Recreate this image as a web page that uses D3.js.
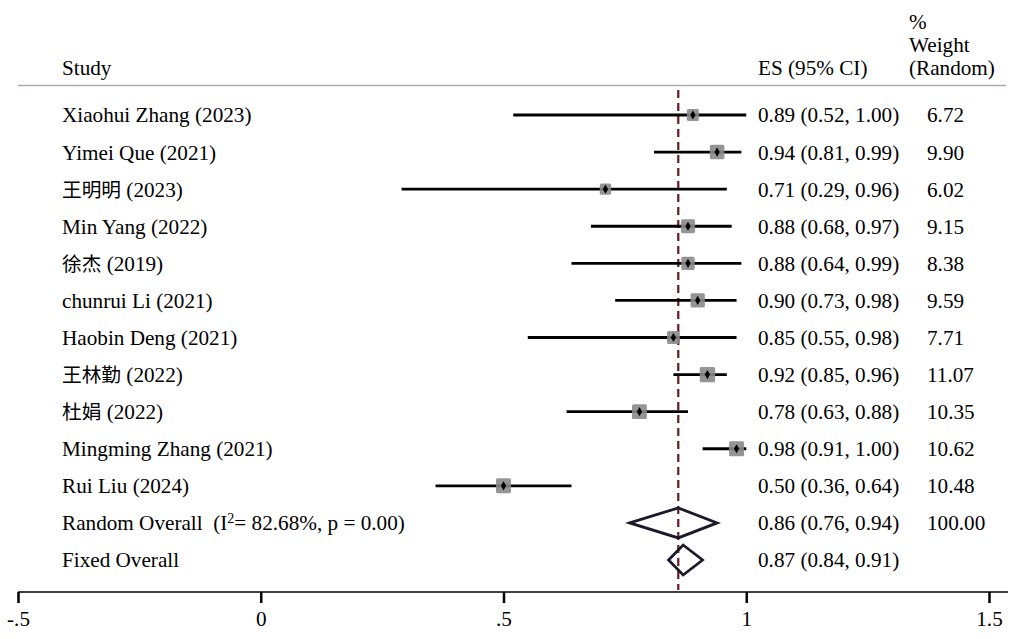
<!DOCTYPE html>
<html><head><meta charset="utf-8">
<script src="https://cdn.jsdelivr.net/npm/d3@7"></script>
<style>
html,body{margin:0;padding:0;background:#fff;}
svg{display:block;font-family:"Liberation Serif","Times New Roman",serif;}
</style></head>
<body><svg id="c" width="1015" height="639"></svg>
<script>
const studies = ["Xiaohui Zhang (2023)","Yimei Que (2021)","王明明 (2023)","Min Yang (2022)","徐杰 (2019)","chunrui Li (2021)","Haobin Deng (2021)","王林勤 (2022)","杜娟 (2022)","Mingming Zhang (2021)","Rui Liu (2024)"];
const es = [0.89,0.94,0.71,0.88,0.88,0.90,0.85,0.92,0.78,0.98,0.50];
const lo = [0.52,0.81,0.29,0.68,0.64,0.73,0.55,0.85,0.63,0.91,0.36];
const hi = [1.00,0.99,0.96,0.97,0.99,0.98,0.98,0.96,0.88,1.00,0.64];
const weights = [6.72,9.90,6.02,9.15,8.38,9.59,7.71,11.07,10.35,10.62,10.48];
const overallLabels = ["Random Overall","Fixed Overall"];
const overallES = [0.86,0.87];
const overallLo = [0.76,0.84];
const overallHi = [0.94,0.91];
const overallWeight = ["100.00",""];
const I2 = "82.68%", pval = "0.00";
const tickVals = [-0.5,0,0.5,1,1.5];
const tickLabels = ["-.5","0",".5","1","1.5"];

const svg = d3.select("#c");
const x = d3.scaleLinear().domain([-0.5,1.5]).range([18,989]);
const y = d3.scaleLinear().domain([0,12]).range([115,560]);
const box = d3.scaleSqrt().domain([0,12]).range([0,16]);
const f2 = d3.format(".2f");
const fontSize = 21.2;

// header
svg.append("text").attr("x",62).attr("y",68).attr("dy","0.35em").attr("font-size",fontSize).text("Study");
svg.append("text").attr("x",758).attr("y",68).attr("dy","0.35em").attr("font-size",fontSize).text("ES (95% CI)");
["%","Weight","(Random)"].forEach((t,i)=>{
  svg.append("text").attr("x",909).attr("y",22+i*23).attr("dy","0.35em").attr("font-size",fontSize).text(t);
});
svg.append("line").attr("x1",18).attr("x2",1006).attr("y1",85.5).attr("y2",85.5).attr("stroke","#b3a8a8").attr("stroke-width",1.3);

// dashed overall line
svg.append("line").attr("x1",x(overallES[0])).attr("x2",x(overallES[0])).attr("y1",90).attr("y2",590)
  .attr("stroke","#6b1a1f").attr("stroke-width",2.2).attr("stroke-dasharray","8,5");

// studies
const g = svg.append("g");
studies.forEach((s,i)=>{
  const yy = y(i);
  g.append("line").attr("x1",x(lo[i])).attr("x2",x(hi[i])).attr("y1",yy).attr("y2",yy).attr("stroke","#000").attr("stroke-width",2.8);
  const b = box(weights[i]);
  g.append("rect").attr("x",x(es[i])-b/2).attr("y",yy-b/2).attr("width",b).attr("height",b).attr("rx",1.5)
    .attr("fill","#8a8a8a").attr("fill-opacity",0.9);
  g.append("path").attr("d",d3.symbol(d3.symbolDiamond,24)()).attr("transform",`translate(${x(es[i])},${yy})`).attr("fill","#000");
  const isCJK = /[\u4e00-\u9fff]/.test(s);
  const t = g.append("text").attr("x",62).attr("y",yy).attr("dy","0.35em").attr("font-size",fontSize);
  if(isCJK){
    const m = s.match(/^(\S+)(.*)$/);
    t.append("tspan").attr("font-family","'Noto Sans CJK SC'").attr("font-size",fontSize-1.5).text(m[1]);
    t.append("tspan").text(m[2]);
  } else t.text(s);
  g.append("text").attr("x",758).attr("y",yy).attr("dy","0.35em").attr("font-size",fontSize)
    .text(`${f2(es[i])} (${f2(lo[i])}, ${f2(hi[i])})`);
  g.append("text").attr("x",927).attr("y",yy).attr("dy","0.35em").attr("font-size",fontSize).text(f2(weights[i]));
});

// overall
overallLabels.forEach((lab,j)=>{
  const yy = y(11+j);
  const h = 15;
  g.append("path").attr("d",`M${x(overallLo[j])},${yy}L${x(overallES[j])},${yy-h}L${x(overallHi[j])},${yy}L${x(overallES[j])},${yy+h}Z`)
    .attr("fill","none").attr("stroke","#1a1a2a").attr("stroke-width",2.8);
  const t = g.append("text").attr("x",62).attr("y",yy).attr("dy","0.35em").attr("font-size",fontSize).attr("xml:space","preserve");
  if(j===0){
    t.append("tspan").text(lab + "  (I");
    t.append("tspan").attr("font-size",14).attr("dy","-0.55em").text("2");
    t.append("tspan").attr("font-size",fontSize).attr("dy","0.363em").text(`= ${I2}, p = ${pval})`);
  } else t.text(lab);
  g.append("text").attr("x",758).attr("y",yy).attr("dy","0.35em").attr("font-size",fontSize)
    .text(`${f2(overallES[j])} (${f2(overallLo[j])}, ${f2(overallHi[j])})`);
  g.append("text").attr("x",927).attr("y",yy).attr("dy","0.35em").attr("font-size",fontSize).text(overallWeight[j]);
});

// axis
const ax = svg.append("g").attr("transform","translate(0,592)")
  .call(d3.axisBottom(x).tickValues(tickVals).tickFormat((d,i)=>tickLabels[i]).tickSize(11).tickPadding(8));
ax.select(".domain").remove();
ax.append("line").attr("x1",18).attr("x2",1008).attr("y1",0).attr("y2",0).attr("stroke","#000").attr("stroke-width",1.5);
ax.selectAll(".tick line").attr("stroke","#000").attr("stroke-width",2.5);
ax.selectAll(".tick text").attr("font-family","'Liberation Serif',serif").attr("font-size",fontSize).attr("fill","#000");
</script></body></html>
